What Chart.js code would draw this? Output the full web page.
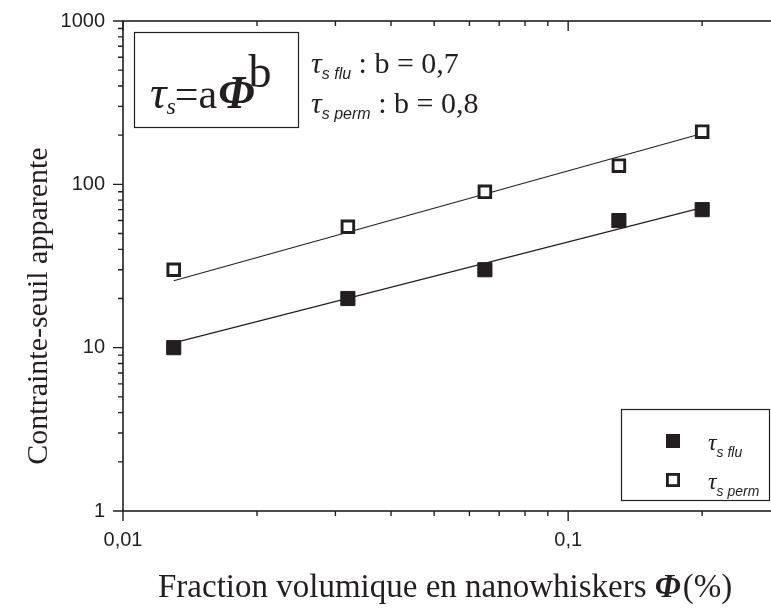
<!DOCTYPE html>
<html lang="fr">
<head>
<meta charset="utf-8">
<title>Contrainte-seuil apparente</title>
<script src="https://cdn.jsdelivr.net/npm/chart.js@4.4.0/dist/chart.umd.min.js"></script>
<style>
  html, body { margin: 0; padding: 0; background: #fff; overflow: hidden; }
  canvas { display: block; }
</style>
</head>
<body>
<canvas id="yieldChart" width="790" height="614"></canvas>
<script>
"use strict";

// Données
const phi = [0.013, 0.032, 0.065, 0.13, 0.2];
const tauFlu = [10, 20, 30, 60, 70];
const tauPerm = [30, 55, 90, 130, 210];

// Droites d'ajustement (extrémités)
const fitPhi = [0.013, 0.2];
const fitFlu = [10.7, 72];
const fitPerm = [25.7, 205];

// Graduations
const xTicks = [0.01, 0.1];
const xTickLabels = ["0,01", "0,1"];
const yTicks = [1, 10, 100, 1000];
const yTickLabels = ["1", "10", "100", "1000"];

const xMin = 0.01, xMax = 0.293;
const yMin = 1, yMax = 1000;

const ink = "#231f20";
const serif = "'Liberation Serif', 'Times New Roman', serif";
const sans = "'Liberation Sans', Arial, sans-serif";

function toPoints(xs, ys) {
    return xs.map((x, i) => ({ x: x, y: ys[i] }));
}

// Majeures + mineures (2..9) dans l'intervalle
function allTicks(majors, min, max) {
    let out = [];
    majors.forEach((m) => {
        for (let k = 1; k <= 9; k++) {
            let v = m * k;
            if (v >= min * 0.999 && v <= max * 1.001) out.push(v);
        }
    });
    return out;
}

function isMajor(majors, v) {
    return majors.some((m) => Math.abs(m - v) / m < 1e-6);
}

function labelFor(majors, labels) {
    return function (value) {
        let i = majors.findIndex((m) => Math.abs(m - value) / m < 1e-6);
        return i >= 0 ? labels[i] : "";
    };
}

// Cadre + graduations (longues pour les décades, courtes sinon)
const frame = {
    id: "frame",
    afterDraw(chart) {
        const { ctx, chartArea: a, scales } = chart;
        const x = scales.x, y = scales.y;
        ctx.save();
        ctx.strokeStyle = ink;
        ctx.lineWidth = 1.6;
        ctx.strokeRect(a.left, a.top, a.right - a.left, a.bottom - a.top);
        ctx.lineWidth = 1.4;
        ctx.beginPath();
        x.ticks.forEach((t) => {
            let px = x.getPixelForValue(t.value);
            let len = isMajor(xTicks, t.value) ? 10 : 5;
            ctx.moveTo(px, a.bottom);
            ctx.lineTo(px, a.bottom + len);
            ctx.moveTo(px, a.top);
            ctx.lineTo(px, a.top + len);
        });
        y.ticks.forEach((t) => {
            let py = y.getPixelForValue(t.value);
            let len = isMajor(yTicks, t.value) ? 10 : 5;
            ctx.moveTo(a.left, py);
            ctx.lineTo(a.left - len, py);
        });
        ctx.stroke();
        ctx.restore();
    }
};

// Suite de morceaux de texte (indices, exposants)
function drawRuns(ctx, x, y, runs) {
    runs.forEach((r) => {
        ctx.font = r.font;
        ctx.fillText(r.text, x, y + (r.dy || 0));
        x += ctx.measureText(r.text).width + (r.gap || 0);
    });
    return x;
}

const annotations = {
    id: "annotations",
    afterDraw(chart) {
        const ctx = chart.ctx;
        ctx.save();
        ctx.fillStyle = ink;
        ctx.strokeStyle = ink;
        ctx.textAlign = "left";
        ctx.textBaseline = "alphabetic";

        // Titre axe x
        drawRuns(ctx, 158, 597, [
            { text: "Fraction volumique en nanowhiskers ", font: "33px " + serif },
            { text: "Φ", font: "bold italic 33px " + serif, gap: 2 },
            { text: "(%)", font: "33px " + serif }
        ]);

        // Titre axe y
        ctx.save();
        ctx.translate(47, 306);
        ctx.rotate(-Math.PI / 2);
        ctx.textAlign = "center";
        ctx.font = "30px " + serif;
        ctx.fillText("Contrainte-seuil apparente", 0, 0);
        ctx.restore();

        // Encadré de la loi de puissance
        ctx.lineWidth = 1.2;
        ctx.strokeRect(134.5, 32.5, 164, 95);
        drawRuns(ctx, 150, 108, [
            { text: "τ", font: "italic 46px " + serif },
            { text: "s", font: "italic 24px " + serif, dy: 6, gap: -1 },
            { text: "=", font: "42px " + serif },
            { text: "a", font: "42px " + serif, gap: 1 },
            { text: "Φ", font: "bold italic 46px " + serif, gap: -6 },
            { text: "b", font: "46px " + serif, dy: -21 }
        ]);

        // Exposants
        drawRuns(ctx, 311, 73, [
            { text: "τ", font: "italic 30px " + serif },
            { text: "s flu", font: "italic 16px " + sans, dy: 6 },
            { text: " : b = 0,7", font: "30px " + serif }
        ]);
        drawRuns(ctx, 311, 113, [
            { text: "τ", font: "italic 30px " + serif },
            { text: "s perm", font: "italic 16px " + sans, dy: 6 },
            { text: " : b = 0,8", font: "30px " + serif }
        ]);

        // Légende
        ctx.lineWidth = 1.2;
        ctx.strokeRect(621.5, 409.5, 148, 91);
        ctx.fillRect(666, 434, 14, 14);
        ctx.lineWidth = 2.8;
        ctx.fillStyle = "#fff";
        ctx.fillRect(667.4, 474.4, 11.2, 11.2);
        ctx.strokeRect(667.4, 474.4, 11.2, 11.2);
        ctx.fillStyle = ink;
        drawRuns(ctx, 708, 450, [
            { text: "τ", font: "italic 24px " + serif },
            { text: "s flu", font: "italic 14px " + sans, dy: 7 }
        ]);
        drawRuns(ctx, 708, 489, [
            { text: "τ", font: "italic 24px " + serif },
            { text: "s perm", font: "italic 14px " + sans, dy: 7 }
        ]);
        ctx.restore();
    }
};

const ctx = document.getElementById("yieldChart");

new Chart(ctx, {
    type: "scatter",
    data: {
        datasets: [
            {
                label: "τs flu",
                data: toPoints(phi, tauFlu),
                pointStyle: "rect",
                pointRadius: 10,
                backgroundColor: ink,
                borderColor: ink,
                borderWidth: 1,
                showLine: false,
                order: 0
            },
            {
                label: "τs perm",
                data: toPoints(phi, tauPerm),
                pointStyle: "rect",
                pointRadius: 8.2,
                backgroundColor: "#fff",
                borderColor: ink,
                borderWidth: 2.9,
                showLine: false,
                order: 0
            },
            {
                label: "ajustement flu",
                data: toPoints(fitPhi, fitFlu),
                showLine: true,
                pointRadius: 0,
                borderColor: ink,
                borderWidth: 1.1,
                order: 1
            },
            {
                label: "ajustement perm",
                data: toPoints(fitPhi, fitPerm),
                showLine: true,
                pointRadius: 0,
                borderColor: ink,
                borderWidth: 1.1,
                order: 1
            }
        ]
    },
    options: {
        responsive: false,
        animation: false,
        devicePixelRatio: 1,
        layout: { padding: { top: 21, right: 14, left: 0, bottom: 0 } },
        plugins: {
            legend: { display: false },
            tooltip: { enabled: false }
        },
        scales: {
            x: {
                type: "logarithmic",
                min: xMin,
                max: xMax,
                afterBuildTicks: (s) => {
                    s.ticks = allTicks(xTicks, xMin, xMax).map((v) => ({ value: v }));
                },
                afterFit: (s) => { s.height = 103; },
                ticks: {
                    callback: labelFor(xTicks, xTickLabels),
                    autoSkip: false,
                    maxRotation: 0,
                    padding: 7,
                    color: ink,
                    font: { family: sans, size: 20 }
                },
                grid: { display: true, drawOnChartArea: false, color: "rgba(0,0,0,0)", tickLength: 10 },
                border: { display: false }
            },
            y: {
                type: "logarithmic",
                position: "left",
                min: yMin,
                max: yMax,
                afterBuildTicks: (s) => {
                    s.ticks = allTicks(yTicks, yMin, yMax).map((v) => ({ value: v }));
                },
                afterFit: (s) => { s.width = 123; },
                ticks: {
                    callback: labelFor(yTicks, yTickLabels),
                    autoSkip: false,
                    padding: 8,
                    color: ink,
                    font: { family: sans, size: 20 }
                },
                grid: { display: true, drawOnChartArea: false, color: "rgba(0,0,0,0)", tickLength: 10 },
                border: { display: false }
            }
        }
    },
    plugins: [frame, annotations]
});
</script>
</body>
</html>
